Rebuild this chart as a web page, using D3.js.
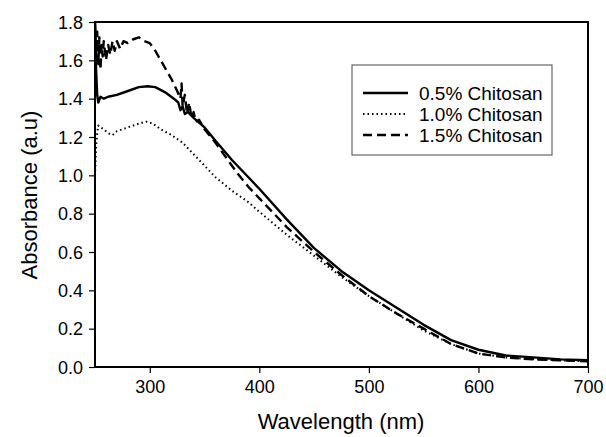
<!DOCTYPE html>
<html><head><meta charset="utf-8">
<script src="https://cdn.jsdelivr.net/npm/d3@7"></script>
<style>body{margin:0;background:#fff}svg{display:block;font-family:"Liberation Sans",Arial,sans-serif}</style>
</head><body><svg id="c" width="606" height="437"></svg>
<script>
const seriesNames = ["0.5% Chitosan", "1.0% Chitosan", "1.5% Chitosan"];
const xTicks = [300, 400, 500, 600, 700];
const yTicks = [0.0, 0.2, 0.4, 0.6, 0.8, 1.0, 1.2, 1.4, 1.6, 1.8];

const wl05 = [250,251,252,253,255,258,262,270,280,290,298,305,315,322,326,328,330,332,335,340,350,360,375,390,400,425,450,475,500,525,550,575,600,625,650,675,700];
const ab05 = [1.80,1.55,1.42,1.38,1.41,1.40,1.41,1.42,1.44,1.46,1.465,1.46,1.43,1.40,1.38,1.34,1.36,1.32,1.33,1.30,1.25,1.18,1.08,0.99,0.93,0.77,0.62,0.50,0.40,0.31,0.22,0.14,0.09,0.06,0.05,0.04,0.035];

const wl10 = [250,251,252,253,255,258,262,266,270,275,280,285,290,297,303,310,320,330,340,350,360,375,390,400,425,450,475,500,525,550,575,600,625,650,675,700];
const ab10 = [1.00,1.15,1.22,1.26,1.25,1.24,1.22,1.21,1.23,1.24,1.25,1.26,1.27,1.28,1.27,1.24,1.21,1.17,1.11,1.05,0.99,0.92,0.86,0.81,0.69,0.58,0.47,0.37,0.28,0.19,0.12,0.07,0.05,0.04,0.035,0.03];

const wl15 = [250,251,252,253,254,255,256,257,258,260,262,264,266,268,270,273,276,280,285,290,295,300,305,310,315,320,325,328,329,330,332,334,336,338,340,342,345,350,360,370,380,390,400,425,450,475,500,525,550,575,600,625,650,675,700];
const ab15 = [1.80,1.62,1.75,1.58,1.72,1.55,1.68,1.62,1.70,1.60,1.68,1.63,1.70,1.65,1.70,1.66,1.70,1.69,1.71,1.72,1.70,1.69,1.65,1.60,1.55,1.50,1.44,1.40,1.48,1.36,1.42,1.32,1.38,1.30,1.33,1.28,1.29,1.24,1.17,1.09,1.01,0.94,0.88,0.73,0.60,0.48,0.37,0.28,0.20,0.12,0.07,0.05,0.04,0.035,0.03];

const dashes = ["", "1.5,3", "9,5"];
const widths = [2.4, 2, 2.4];

const svg = d3.select("#c");
const L = 95, R = 588, T = 22, B = 367;
const x = d3.scaleLinear().domain([250, 700]).range([L, R]);
const y = d3.scaleLinear().domain([0, 1.8]).range([B, T]);

const series = [
  {name: seriesNames[0], wl: wl05, ab: ab05},
  {name: seriesNames[1], wl: wl10, ab: ab10},
  {name: seriesNames[2], wl: wl15, ab: ab15}
];

svg.append("clipPath").attr("id","pc").append("rect")
  .attr("x", L).attr("y", T).attr("width", R-L).attr("height", B-T);

const line = d3.line().x(d => x(d[0])).y(d => y(d[1]));
const g = svg.append("g").attr("clip-path","url(#pc)");
series.forEach((s, i) => {
  g.append("path").datum(s.wl.map((w, j) => [w, s.ab[j]]))
    .attr("d", line).attr("fill","none").attr("stroke","#000")
    .attr("stroke-width", widths[i]).attr("stroke-dasharray", dashes[i] || null)
    .attr("stroke-linejoin","round");
});

// frame
svg.append("rect").attr("x", L).attr("y", T).attr("width", R-L).attr("height", B-T)
  .attr("fill","none").attr("stroke","#000").attr("stroke-width",2);

const xa = svg.append("g").attr("transform",`translate(0,${B})`)
  .call(d3.axisBottom(x).tickValues(xTicks).tickSize(6).tickSizeOuter(0).tickFormat(d3.format("d")));
const ya = svg.append("g").attr("transform",`translate(${L},0)`)
  .call(d3.axisLeft(y).tickValues(yTicks).tickSize(6).tickSizeOuter(0).tickFormat(d3.format(".1f")));
[xa, ya].forEach(a => {
  a.select(".domain").remove();
  a.selectAll("line").attr("stroke","#000").attr("stroke-width",1.2);
  a.selectAll("text").attr("font-family","Liberation Sans, Arial, sans-serif").attr("font-size",18).attr("fill","#000");
});
xa.selectAll("text").attr("y",0).attr("dy",null).attr("transform","translate(0,26)");
ya.selectAll("text").attr("x",-12).attr("dy","0.35em");

svg.append("text").attr("x", 341).attr("y", 429).attr("text-anchor","middle")
  .attr("font-size",22).text("Wavelength (nm)");
svg.append("text").attr("transform","translate(37,195) rotate(-90)").attr("text-anchor","middle")
  .attr("font-size",22).text("Absorbance (a.u)");

// legend
const lg = svg.append("g");
lg.append("rect").attr("x",352).attr("y",65).attr("width",200).attr("height",90)
  .attr("fill","#fff").attr("stroke","#666").attr("stroke-width",1.2);
series.forEach((s, i) => {
  const yy = 93 + i*21;
  lg.append("line").attr("x1",363).attr("x2",408).attr("y1",yy).attr("y2",yy)
    .attr("stroke","#000").attr("stroke-width",widths[i]).attr("stroke-dasharray", dashes[i] || null);
  lg.append("text").attr("x",419).attr("y",yy).attr("dy","0.35em").attr("font-size",19).text(s.name);
});
</script></body></html>
